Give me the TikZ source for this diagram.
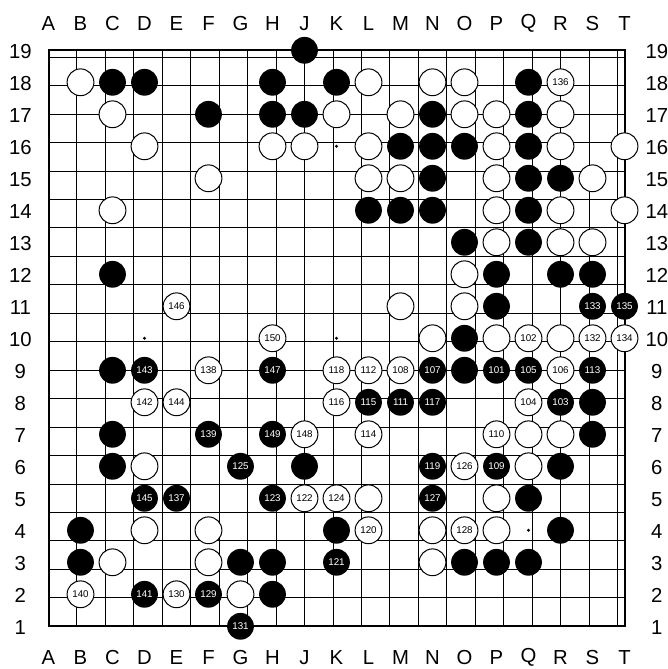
\documentclass[tikz,border=0pt]{standalone}
\usepackage{fontspec}
\setmainfont{Liberation Sans}
\begin{document}
\begin{tikzpicture}[x=1pt,y=1pt,
  gridline/.style={line width=1pt,black},
  border/.style={line width=2pt,black},
  coordlabel/.style={font=\fontsize{20.3}{21}\selectfont,inner sep=0pt,anchor=center},
  stonebase/.style={circle,minimum size=26.8pt,inner sep=0pt,font=\fontsize{9.8}{10}\selectfont},
  wstone/.style={stonebase,draw=black,line width=1pt,fill=white,text=black},
  bstone/.style={stonebase,fill=black,text=white},
  hoshi/.style={fill=black}]
\useasboundingbox (0,0) rectangle (667,669);
\begin{scope}[shift={(48.5,42.7)},x=32pt,y=32pt]
  % grid
  \draw[gridline] (0,0) grid (18,18);
  \draw[border] (0,0) rectangle (18,18);
  % intersections and coordinate labels
  \foreach \L [count=\i from 0] in {A,B,C,D,E,F,G,H,J,K,L,M,N,O,P,Q,R,S,T} {
    \foreach \r in {1,...,19} {
      \coordinate (p\L\r) at (\i,\r-1);
    }
    \node[coordlabel] (top\L) at (\i,18.84) {\L};
    \node[coordlabel] (bot\L) at (\i,-0.98) {\L};
  }
  \foreach \r in {1,...,19} {
    \node[coordlabel] (left\r) at (-0.88,\r-1.04) {\r};
    \node[coordlabel] (right\r) at (19.01,\r-1.04) {\r};
  }
  % star points
  \foreach \p in {D4,D10,D16,K4,K10,K16,Q4,Q10,Q16}
    \fill[hoshi] (p\p) circle (1.6pt);
  % plain white stones
  \foreach \p in {B18,L18,N18,O18,C17,K17,M17,O17,P17,R17,D16,H16,J16,L16,P16,R16,T16,
                  F15,L15,M15,P15,S15,C14,P14,R14,T14,P13,R13,S13,O12,M11,O11,N10,P10,R10,
                  Q7,R7,D6,Q6,L5,P5,D4,F4,N4,P4,C3,F3,N3,G2}
    \node[wstone] (s\p) at (p\p) {};
  % plain black stones
  \foreach \p in {J19,C18,D18,H18,K18,Q18,F17,H17,J17,N17,Q17,M16,N16,O16,Q16,N15,Q15,R15,
                  L14,M14,N14,Q14,O13,Q13,C12,P12,R12,S12,P11,O10,C9,O9,S8,C7,S7,C6,J6,R6,
                  Q5,B4,K4,R4,B3,G3,H3,O3,P3,Q3,H2}
    \node[bstone] (s\p) at (p\p) {};
  % numbered white stones
  \foreach \p/\n in {R18/136,E11/146,H10/150,Q10/102,S10/132,T10/134,F9/138,K9/118,L9/112,
                     M9/108,R9/106,D8/142,E8/144,K8/116,Q8/104,J7/148,L7/114,P7/110,O6/126,
                     J5/122,K5/124,L4/120,O4/128,B2/140,E2/130}
    \node[wstone] (s\p) at (p\p) {\n};
  % numbered black stones
  \foreach \p/\n in {S11/133,T11/135,D9/143,H9/147,N9/107,P9/101,Q9/105,S9/113,L8/115,
                     M8/111,N8/117,R8/103,F7/139,H7/149,G6/125,N6/119,P6/109,D5/145,E5/137,
                     H5/123,N5/127,K3/121,D2/141,F2/129,G1/131}
    \node[bstone] (s\p) at (p\p) {\n};
\end{scope}
\end{tikzpicture}
\end{document}
